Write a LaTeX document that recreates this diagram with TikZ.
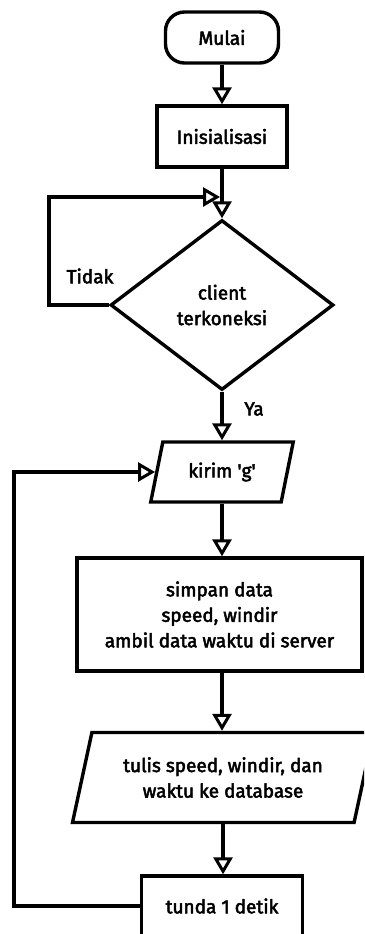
\documentclass[tikz,border=0pt]{standalone}
\usepackage{fontspec}
\setmainfont{Fira Sans}[FakeBold=2.6]
\usetikzlibrary{arrows.meta,shapes.geometric}
\begin{document}
\begin{tikzpicture}[x=1pt,y=-1pt,
  every node/.style={font=\fontsize{19}{25.5}\selectfont, align=center, inner sep=0pt, line width=3.4pt},
  term/.style={draw, rectangle, rounded corners=19pt, minimum width=113pt, minimum height=51pt},
  proc/.style={draw, rectangle},
  dec/.style={draw, diamond, minimum width=223pt, minimum height=170pt},
  io/.style={draw, trapezium, trapezium left angle=70, trapezium right angle=110, trapezium stretches=true},
  lbl/.style={draw=none},
  arr/.style={line width=3.4pt, -{Triangle[open, length=17pt, width=19pt, line width=3pt]}}
]
\useasboundingbox (0,0) rectangle (364,934);
\clip (0,0) rectangle (364,934);

\node[term] (mulai) at (222,37.5) {Mulai};
\node[proc, minimum width=130pt, minimum height=61pt] (init) at (222,136.5) {Inisialisasi};
\node[dec] (dia) at (222,305) {client\\terkoneksi};
\node[io, minimum width=143pt, minimum height=60pt] (kirim) at (222,472) {kirim \textquotesingle g\textquotesingle};
\node[proc, minimum width=285pt, minimum height=113pt] (simpan) at (219.5,614.5) {simpan data\\speed, windir\\ambil data waktu di server};
\node[io, minimum width=302pt, minimum height=90pt] (tulis) at (223,777.5) {tulis speed, windir, dan\\waktu ke database};
\node[proc, minimum width=161pt, minimum height=60pt] (tunda) at (222,906) {tunda 1 detik};

\node[lbl] (tidak) at (90,276) {Tidak};
\node[lbl] (ya) at (254,409) {Ya};

\coordinate (m1) at (220,197);

\draw[arr] (mulai.south) -- (mulai.south |- init.north);
\draw[arr] (init.south) -- (init.south |- dia.north);
\draw[arr] (dia.west) -- ++(-60,0) |- (m1);
\draw[arr] (dia.south) -- (dia.south |- kirim.north);
\draw[arr] (kirim.south) -- (kirim.south |- simpan.north);
\draw[arr] (kirim.south |- simpan.south) -- (kirim.south |- tulis.north);
\draw[arr] (tulis.south) -- (tulis.south |- tunda.north);
\draw[arr] (tunda.west) -- ++(-126,0) |- (kirim.west);
\end{tikzpicture}
\end{document}
